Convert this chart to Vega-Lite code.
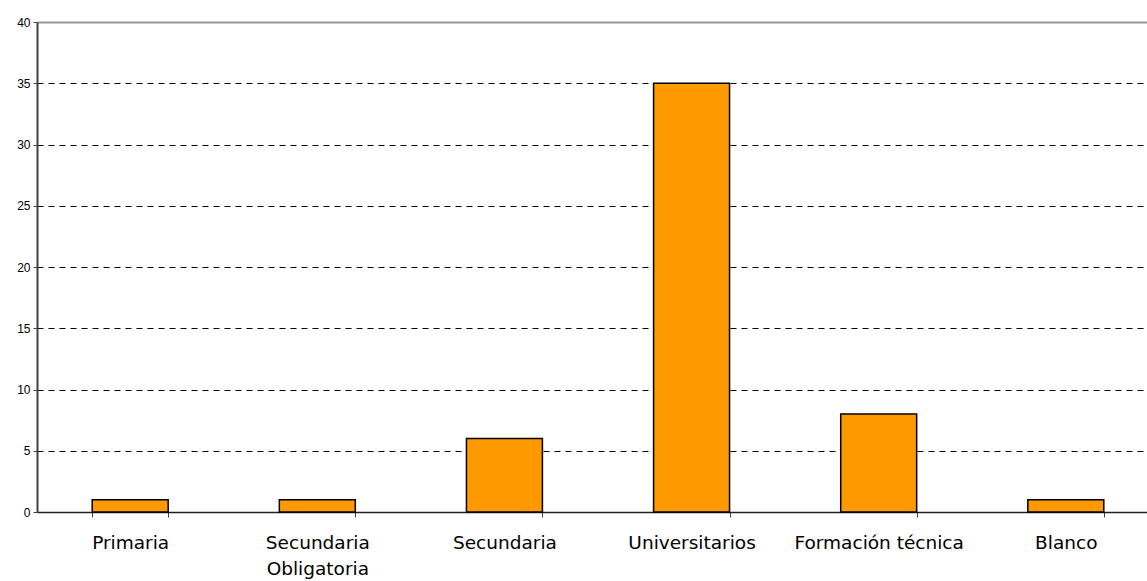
{
  "$schema": "https://vega.github.io/schema/vega-lite/v6.json",
  "width": 1122,
  "height": 490,
  "autosize": {"type": "none"},
  "padding": {"left": 37, "top": 22, "right": 0, "bottom": 69},
  "background": "white",
  "config": {"view": {"stroke": null}},
  "data": {
    "values": [
      {"nivel": "Primaria", "valor": 1},
      {"nivel": "Secundaria Obligatoria", "valor": 1},
      {"nivel": "Secundaria", "valor": 6},
      {"nivel": "Universitarios", "valor": 35},
      {"nivel": "Formación técnica", "valor": 8},
      {"nivel": "Blanco", "valor": 1}
    ]
  },
  "mark": {"type": "bar", "color": "#FF9900", "stroke": "#000000", "strokeWidth": 1.5},
  "encoding": {
    "x": {
      "field": "nivel",
      "type": "nominal",
      "sort": null,
      "scale": {"paddingInner": 0.594, "paddingOuter": 0.295},
      "axis": {
        "title": null,
        "labelAngle": 0,
        "labelFont": "DejaVu Sans",
        "labelFontSize": 18.5,
        "labelColor": "#000000",
        "labelPadding": 16,
        "labelLineHeight": 26,
        "labelExpr": "datum.label == 'Secundaria Obligatoria' ? ['Secundaria', 'Obligatoria'] : datum.label",
        "tickBand": "extent",
        "tickSize": 5,
        "tickColor": "#404040",
        "tickWidth": 1,
        "domainColor": "#202020",
        "domainWidth": 1.5,
        "grid": false
      }
    },
    "y": {
      "field": "valor",
      "type": "quantitative",
      "scale": {"domain": [0, 40], "nice": false},
      "axis": {
        "title": null,
        "values": [0, 5, 10, 15, 20, 25, 30, 35, 40],
        "labelFont": "Liberation Sans",
        "labelFontSize": 12,
        "labelColor": "#000000",
        "labelPadding": 3,
        "tickSize": 4,
        "tickColor": "#404040",
        "domainColor": "#404040",
        "domainWidth": 2,
        "grid": true,
        "gridColor": {"condition": {"test": "datum.value === 40", "value": "#999999"}, "value": "#000000"},
        "gridDash": {"condition": {"test": "datum.value === 40", "value": []}, "value": [6, 5]},
        "gridWidth": {"condition": {"test": "datum.value === 40", "value": 2}, "value": 1}
      }
    }
  }
}
